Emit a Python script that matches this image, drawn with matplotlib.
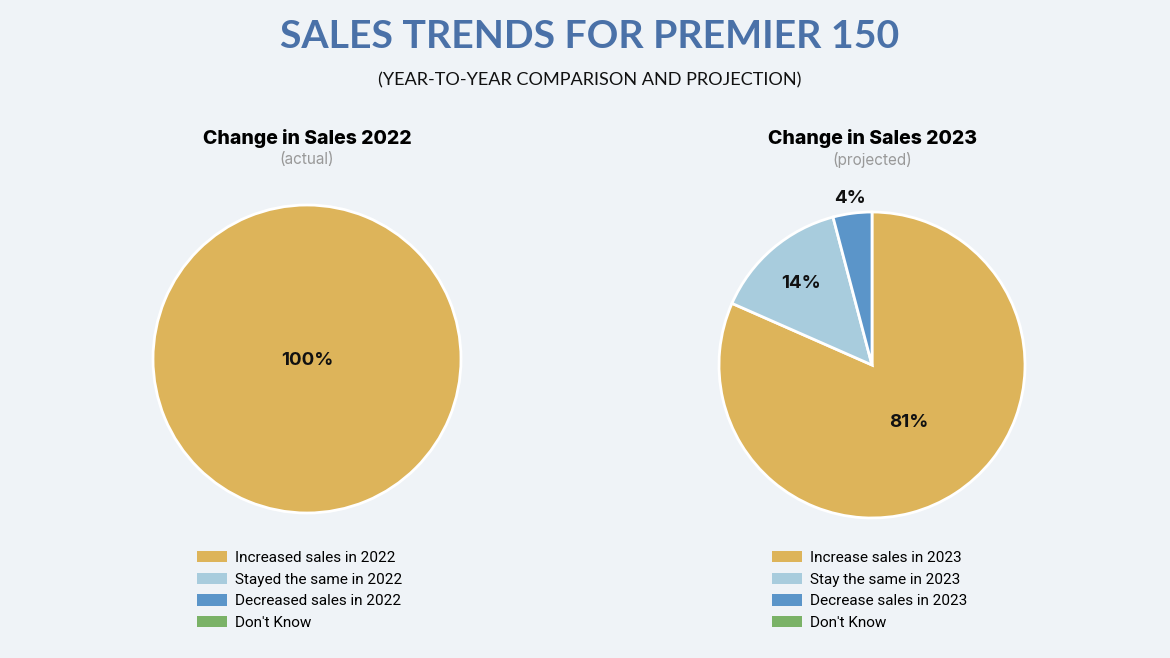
import math
import matplotlib
matplotlib.use("Agg")
import matplotlib.pyplot as plt
from matplotlib.patches import Patch

# data
labels_2022 = ["Increased sales in 2022", "Stayed the same in 2022",
               "Decreased sales in 2022", "Don't Know"]
values_2022 = [100, 0, 0, 0]
labels_2023 = ["Increase sales in 2023", "Stay the same in 2023",
               "Decrease sales in 2023", "Don't Know"]
values_2023 = [81.6, 14.3, 4.1, 0]
colors = ["#DDB45A", "#A8CCDD", "#5B95C9", "#7AB267"]

bg = "#EFF3F7"
W, H = 1170, 658

fig = plt.figure(figsize=(11.7, 6.58), dpi=100)
fig.patch.set_facecolor(bg)


def px(x, y):
    return x / W, 1 - y / H


fig.text(*px(590, 37), "SALES TRENDS FOR PREMIER 150", ha="center", va="center",
         fontsize=28.3, fontweight="bold", color="#4A71A8", family="Lato")
fig.text(*px(590, 80), "(YEAR-TO-YEAR COMPARISON AND PROJECTION)", ha="center",
         va="center", fontsize=13.1, color="#111111", family="Lato")


def draw_pie(cx, cy, r, values, labels, title, sub, dists, legend_x):
    ax = fig.add_axes([(cx - r) / W, 1 - (cy + r) / H, 2 * r / W, 2 * r / H])
    ax.set_facecolor(bg)
    vals = [v for v in values if v > 0]
    cols = [c for v, c in zip(values, colors) if v > 0]
    wedges, _ = ax.pie(vals, colors=cols, startangle=90, counterclock=False,
                       wedgeprops=dict(edgecolor="white", linewidth=2), radius=1)
    for w, v, d in zip(wedges, vals, dists):
        if v >= 100:
            x, y = 0, 0
        else:
            a = math.radians((w.theta1 + w.theta2) / 2)
            x, y = d * math.cos(a), d * math.sin(a)
        ax.text(x, y - 0.01, f"{int(v)}%", ha="center", va="center", fontsize=13.5,
                fontweight="bold", color="#111111", family="Inter")
    ax.set_xlim(-1, 1)
    ax.set_ylim(-1, 1)
    ax.set_aspect("equal")
    ax.axis("off")

    fig.text(*px(cx, 138), title, ha="center", va="center", fontsize=14,
             fontweight="heavy", color="#000000", family="Inter")
    fig.text(*px(cx, 160), sub, ha="center", va="center", fontsize=11,
             color="#999999", family="Inter")

    handles = [Patch(facecolor=c, edgecolor="none") for c in colors]
    fig.legend(handles, labels, loc="upper left",
               bbox_to_anchor=px(legend_x, 551), frameon=False,
               handlelength=1.95, handleheight=0.75,
               handletextpad=0.55, labelspacing=0.5, borderpad=0,
               borderaxespad=0, prop=dict(family="Roboto", size=11))


draw_pie(307, 359, 154, values_2022, labels_2022, "Change in Sales 2022",
         "(actual)", [0], 197)
draw_pie(872, 365, 153, values_2023, labels_2023, "Change in Sales 2023",
         "(projected)", [0.44, 0.71, 1.11], 772)

fig.savefig("out.png", dpi=100, facecolor=bg)
